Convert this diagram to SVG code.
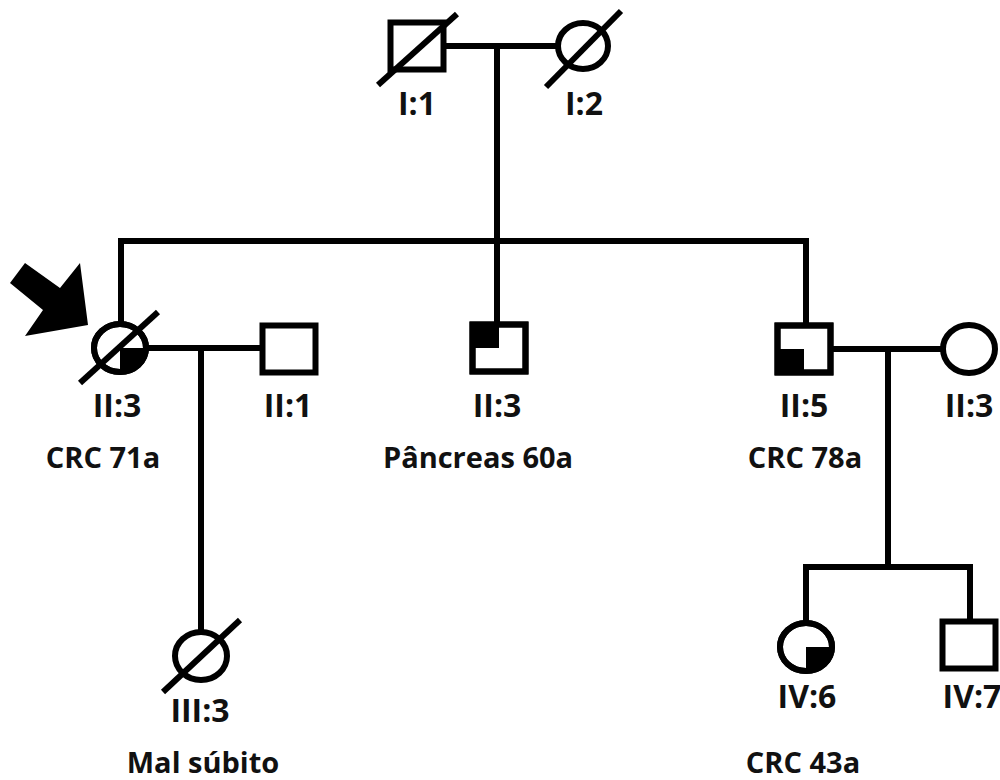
<svg xmlns="http://www.w3.org/2000/svg" width="1000" height="780" viewBox="0 0 1000 780">
<style>
.ln{fill:none;stroke:#000;stroke-width:6}
.sym{fill:#fff;stroke:#000;stroke-width:6}
.fill{fill:#000;stroke:none}
.sl{stroke:#000;stroke-width:6;fill:none}
text{font-family:"Open Sans","Liberation Sans",sans-serif;font-weight:700;fill:#111;text-anchor:middle}
.id{font-size:32px}
.ds{font-size:29px}
</style>
<rect width="1000" height="780" fill="#fff"/>
<g id="connectors">
<path class="ln" d="M445,46 H557"/>
<path class="ln" d="M497,46 V241"/>
<path class="ln" d="M121,322 V241 H806 V325"/>
<path class="ln" d="M497,241 V324"/>
<path class="ln" d="M146,348 H262"/>
<path class="ln" d="M201,348 V632"/>
<path class="ln" d="M831,349 H943"/>
<path class="ln" d="M888,349 V567"/>
<path class="ln" d="M806,623 V567 H970 V621"/>
</g>
<g id="I1">
<rect class="sym" x="390.5" y="22.5" width="53" height="47"/>
<line class="sl" x1="378" y1="85" x2="457" y2="14"/>
<text class="id" x="417" y="115">I:1</text>
</g>
<g id="I2">
<ellipse class="sym" cx="583" cy="46" rx="25" ry="23"/>
<line class="sl" x1="546" y1="87" x2="621" y2="11"/>
<text class="id" x="584" y="115">I:2</text>
</g>
<g id="arrow">
<polygon class="fill" points="10,283 25,263 60,288 80,263 88,325 25,336 43,310"/>
</g>
<g id="II3a">
<ellipse class="sym" cx="120" cy="348" rx="26" ry="24"/>
<path class="fill" d="M120,348 H146 A26,24 0 0 1 120,372 Z"/>
<ellipse class="ln" cx="120" cy="348" rx="26" ry="24"/>
<line class="sl" x1="80" y1="383" x2="158" y2="312"/>
<text class="id" x="117" y="417">II:3</text>
<text class="ds" x="103" y="468">CRC 71a</text>
</g>
<g id="II1">
<rect class="sym" x="262.5" y="325.5" width="53" height="47"/>
<text class="id" x="288" y="417">II:1</text>
</g>
<g id="II3b">
<rect class="sym" x="472.5" y="324.5" width="53" height="47"/>
<rect class="fill" x="472.5" y="324.5" width="26.5" height="23.5"/>
<rect class="ln" x="472.5" y="324.5" width="53" height="47"/>
<text class="id" x="497" y="417">II:3</text>
<text class="ds" x="478" y="468">Pâncreas 60a</text>
</g>
<g id="II5">
<rect class="sym" x="777.5" y="325.5" width="53" height="47"/>
<rect class="fill" x="777.5" y="349" width="26.5" height="23.5"/>
<rect class="ln" x="777.5" y="325.5" width="53" height="47"/>
<text class="id" x="804" y="417">II:5</text>
<text class="ds" x="805" y="468">CRC 78a</text>
</g>
<g id="II3c">
<ellipse class="sym" cx="969" cy="349" rx="26" ry="24"/>
<text class="id" x="969" y="417">II:3</text>
</g>
<g id="III3">
<ellipse class="sym" cx="201" cy="656" rx="26" ry="24"/>
<line class="sl" x1="163" y1="692" x2="240" y2="620"/>
<text class="id" x="200" y="722">III:3</text>
<text class="ds" x="203" y="773">Mal súbito</text>
</g>
<g id="IV6">
<ellipse class="sym" cx="806" cy="647" rx="26" ry="24"/>
<path class="fill" d="M806,647 H832 A26,24 0 0 1 806,671 Z"/>
<ellipse class="ln" cx="806" cy="647" rx="26" ry="24"/>
<text class="id" x="807" y="708">IV:6</text>
<text class="ds" x="803" y="773">CRC 43a</text>
</g>
<g id="IV7">
<rect class="sym" x="942.5" y="621.5" width="53" height="47"/>
<text class="id" x="972" y="708">IV:7</text>
</g>
</svg>
